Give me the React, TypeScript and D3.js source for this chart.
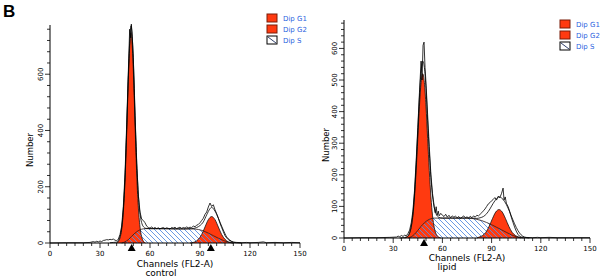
import React from "react";
import * as d3 from "d3";

type Pt = [number, number];

// ---------- shared tick labels ----------
const xTickLabels = [0, 30, 60, 90, 120, 150];
const leftYTickLabels = [0, 200, 400, 600];
const rightYTickLabels = [0, 100, 200, 300, 400, 500, 600];
const legendLabels = ["Dip G1", "Dip G2", "Dip S"];
const panelNames = ["control", "lipid"];

// ---------- control panel ----------
const controlG1: Pt[] = [
  [40, 0], [41, 5], [42, 18], [43, 48], [44, 110], [45, 220], [46, 390], [47, 580], [48, 715],
  [48.6, 748], [49.2, 715], [50.2, 580], [51.2, 390], [52.2, 220], [53.2, 110], [54.2, 48],
  [55.2, 18], [56.2, 5], [57.2, 0],
];
const controlG2: Pt[] = [
  [84, 0], [85, 1], [87, 4], [89, 13], [91, 30], [93, 57], [95, 83], [97, 94], [99, 83],
  [101, 57], [103, 30], [105, 13], [107, 4], [109, 1], [110, 0],
];
const controlS: Pt[] = [
  [43, 0], [45, 4], [47, 12], [49, 24], [51, 35], [53, 44], [55, 49], [57, 51], [65, 51],
  [75, 50], [85, 50], [89, 48], [92, 43], [95, 35], [98, 26], [101, 17], [104, 9], [107, 3], [110, 0],
];
const controlFit: Pt[] = [
  [36, 1], [38, 2], [40, 3], [41, 9], [42, 24], [43, 55], [44, 120], [45, 232], [46, 404],
  [47, 595], [48, 735], [48.6, 772], [49.2, 745], [50.2, 615], [51.2, 430], [52.2, 265],
  [53.2, 155], [54.2, 96], [55.2, 68], [56.2, 57], [57.5, 52], [60, 51], [70, 51], [80, 50],
  [85, 51], [88, 55], [90, 62], [92, 75], [94, 100], [96, 122], [97, 127], [98, 122],
  [100, 102], [102, 74], [104, 46], [106, 22], [108, 10], [110, 3], [112, 1], [115, 0],
];
const controlRaw: Pt[] = [
  [0, 0], [10, 1], [20, 1], [24, 2], [26, 5], [27, 3], [28, 6], [29, 4], [30, 7], [31, 5],
  [32, 9], [33, 10], [34, 12], [35, 11], [36, 13], [37, 12], [38, 14], [39, 10], [40, 8],
  [41, 14], [42, 30], [43, 60], [44, 130], [45, 245], [46, 420], [47, 610], [47.8, 760],
  [48.3, 730], [48.8, 778], [49.3, 740], [50, 660], [51, 450], [52, 285], [53, 170],
  [54, 110], [55, 85], [56, 80], [57, 72], [58, 60], [59, 55], [60, 53], [61, 57], [62, 52],
  [63, 55], [64, 51], [65, 54], [66, 50], [67, 53], [68, 55], [69, 51], [70, 54], [71, 52],
  [72, 50], [73, 55], [74, 53], [75, 56], [76, 51], [77, 54], [78, 56], [79, 52], [80, 55],
  [81, 53], [82, 57], [83, 54], [84, 56], [85, 55], [86, 60], [87, 58], [88, 63], [89, 66],
  [90, 72], [91, 80], [92, 88], [93, 102], [94, 110], [95, 128], [96, 142], [97, 130],
  [98, 136], [99, 118], [100, 104], [101, 88], [102, 70], [103, 55], [104, 40], [105, 26],
  [106, 18], [107, 12], [108, 8], [109, 5], [110, 3], [112, 2], [115, 1], [118, 2], [120, 1],
  [125, 2], [128, 4], [130, 1], [135, 2], [140, 1], [145, 2], [150, 1],
];
const controlMarkers = [49, 96.5];

// ---------- lipid panel ----------
const lipidG1: Pt[] = [
  [37, 0], [38, 2], [39, 6], [40, 15], [41, 34], [42, 70], [43, 130], [44, 214], [45, 315],
  [46, 417], [47, 492], [48, 520], [49, 492], [50, 417], [51, 315], [52, 214], [53, 130],
  [54, 70], [55, 34], [56, 15], [57, 6], [58, 2], [59, 0],
];
const lipidG2: Pt[] = [
  [81, 0], [82.5, 3], [84.5, 8], [86.5, 18], [88.5, 37], [90.5, 61], [92.5, 82], [94.5, 90],
  [96.5, 82], [98.5, 61], [100.5, 37], [102.5, 18], [104.5, 8], [106.5, 3], [108.5, 1], [109.5, 0],
];
const lipidS: Pt[] = [
  [39, 0], [41, 4], [43, 12], [45, 24], [47, 37], [49, 48], [51, 56], [53, 61], [55, 63],
  [65, 63], [75, 63], [78, 62], [81, 59], [84, 55], [87, 49], [90, 42], [93, 34], [96, 26],
  [99, 18], [102, 10], [105, 4], [108, 0],
];
const lipidFit: Pt[] = [
  [34, 0], [36, 1], [38, 3], [39, 7], [40, 17], [41, 38], [42, 76], [43, 142], [44, 232],
  [45, 339], [46, 446], [47, 529], [48, 560], [49, 540], [50, 473], [51, 371], [52, 274],
  [53, 191], [54, 133], [55, 97], [56, 78], [57, 69], [58, 65], [60, 63], [70, 63], [78, 63],
  [81, 62], [83, 64], [85, 68], [87, 77], [89, 92], [91, 110], [93, 124], [94.5, 130],
  [96, 127], [98, 115], [100, 95], [102, 70], [104, 45], [106, 24], [108, 10], [110, 3], [113, 0],
];
const lipidRaw: Pt[] = [
  [0, 0], [10, 1], [20, 1], [28, 2], [32, 3], [33, 6], [34, 4], [35, 8], [36, 5], [37, 9],
  [38, 7], [39, 14], [40, 25], [41, 48], [42, 85], [43, 150], [44, 245], [45, 350], [46, 460],
  [47, 560], [47.6, 500], [48.2, 610], [48.8, 620], [49.4, 540], [50, 490], [51, 390],
  [52, 290], [53, 200], [54, 140], [55, 100], [55.6, 80], [56.2, 99], [56.8, 72], [57.5, 85],
  [58, 70], [59, 78], [60, 72], [61, 68], [62, 75], [63, 66], [64, 72], [65, 64], [66, 70],
  [67, 66], [68, 69], [69, 64], [70, 68], [71, 62], [72, 66], [73, 70], [74, 64], [75, 67],
  [76, 63], [77, 69], [78, 64], [79, 70], [80, 66], [81, 72], [82, 70], [83, 75], [84, 80],
  [85, 86], [86, 92], [87, 100], [88, 108], [89, 112], [90, 118], [91, 122], [92, 128],
  [93, 120], [94, 132], [95, 128], [96, 140], [97, 158], [97.6, 120], [98.3, 130], [99, 110],
  [100, 100], [101, 85], [102, 66], [103, 50], [104, 35], [105, 22], [106, 12], [107, 6],
  [108, 3], [110, 2], [115, 1], [118, 2], [120, 1], [125, 2], [130, 1], [140, 1], [150, 1],
];
const lipidMarkers = [48.8];

const RED = "#ff3a10";
const BLUE_TEXT = "#2a62e0";
const HATCH = "#5a8fe0";
const FONT = "'DejaVu Sans', Verdana, sans-serif";

interface PanelProps {
  id: string;
  xRange: [number, number];
  y0: number;
  yTop: number;
  yMax: number;
  minorStep: number;
  yLabels: number[];
  g1: Pt[];
  g2: Pt[];
  s: Pt[];
  fit: Pt[];
  raw: Pt[];
  markers: number[];
  name: string;
  yLabelX: number;
  numberX: number;
  chanY: number;
  nameY: number;
  chanX: number;
  nameX: number;
  legendX: number;
  legendY: number;
}

function Panel(p: PanelProps) {
  const x = d3.scaleLinear().domain([0, 150]).range(p.xRange);
  const y = d3.scaleLinear().domain([0, p.yMax]).range([p.y0, p.yTop]);
  const area = d3
    .area<Pt>()
    .x((d) => x(d[0]))
    .y0(y(0))
    .y1((d) => y(d[1]))
    .curve(d3.curveMonotoneX);
  const smooth = d3
    .line<Pt>()
    .x((d) => x(d[0]))
    .y((d) => y(d[1]))
    .curve(d3.curveMonotoneX);
  const jag = d3
    .line<Pt>()
    .x((d) => x(d[0]))
    .y((d) => y(d[1]))
    .curve(d3.curveLinear);

  const yMinor = d3.range(0, p.yMax + 0.001, p.minorStep);
  const xMinor = d3.range(0, 150.001, 5);
  const x0 = x(0);

  return (
    <g>
      {/* components */}
      <path d={area(p.g1) || ""} fill={RED} />
      <path d={area(p.g2) || ""} fill={RED} />
      <path d={area(p.s) || ""} fill={`url(#hatch-${p.id})`} />
      <path d={smooth(p.s) || ""} fill="none" stroke="#2a1a1a" strokeWidth={0.8} />
      <path d={smooth(p.g1) || ""} fill="none" stroke="#111" strokeWidth={0.8} />
      <path d={smooth(p.g2) || ""} fill="none" stroke="#111" strokeWidth={0.8} />
      <path d={smooth(p.fit) || ""} fill="none" stroke="#000" strokeWidth={0.8} />
      <path d={jag(p.raw) || ""} fill="none" stroke="#000" strokeWidth={0.8} />

      {/* y axis */}
      <line x1={x0} x2={x0} y1={p.yTop} y2={p.y0} stroke="#000" strokeWidth={1} />
      {yMinor.map((v) => (
        <line
          key={`ym${v}`}
          x1={x0 - (p.yLabels.includes(v) ? 5 : 3)}
          x2={x0}
          y1={y(v)}
          y2={y(v)}
          stroke="#000"
          strokeWidth={0.8}
        />
      ))}
      {p.yLabels.map((v) => (
        <text
          key={`yl${v}`}
          transform={`translate(${p.yLabelX},${y(v)}) rotate(-90)`}
          textAnchor="middle"
          fontSize={7}
          fontFamily={FONT}
          fill="#000"
        >
          {v}
        </text>
      ))}
      <text
        transform={`translate(${p.numberX},${(p.y0 + p.yTop) / 2 + 16}) rotate(-90)`}
        textAnchor="middle"
        fontSize={8.5}
        fontFamily={FONT}
        fill="#000"
      >
        Number
      </text>

      {/* x axis */}
      <line x1={x0} x2={x(150)} y1={p.y0} y2={p.y0} stroke="#000" strokeWidth={1} />
      {xMinor.map((v) => (
        <line
          key={`xm${v}`}
          x1={x(v)}
          x2={x(v)}
          y1={p.y0}
          y2={p.y0 + (xTickLabels.includes(v) ? 5 : 3)}
          stroke="#000"
          strokeWidth={0.8}
        />
      ))}
      {xTickLabels.map((v) => (
        <text
          key={`xl${v}`}
          x={x(v)}
          y={p.y0 + 12.5}
          textAnchor="middle"
          fontSize={7}
          fontFamily={FONT}
          fill="#000"
        >
          {v}
        </text>
      ))}
      {p.markers.map((m) => (
        <path
          key={`mk${m}`}
          d={`M${x(m)},${p.y0 + 1} L${x(m) + 4},${p.y0 + 8} L${x(m) - 4},${p.y0 + 8} Z`}
          fill="#000"
        />
      ))}
      <text x={p.chanX} y={p.chanY} textAnchor="middle" fontSize={9} fontFamily={FONT} fill="#000">
        Channels (FL2-A)
      </text>
      <text x={p.nameX} y={p.nameY} textAnchor="middle" fontSize={9} fontFamily={FONT} fill="#000">
        {p.name}
      </text>

      {/* legend */}
      {legendLabels.map((lab, i) => {
        const ly = p.legendY + i * 11;
        const isS = i === 2;
        return (
          <g key={lab}>
            <rect
              x={p.legendX}
              y={ly}
              width={10}
              height={8}
              fill={isS ? "#fff" : RED}
              stroke={isS ? "#000" : "#7a1c08"}
              strokeWidth={1}
            />
            {isS && (
              <line x1={p.legendX + 1} y1={ly + 1} x2={p.legendX + 9} y2={ly + 7} stroke="#1a2a5a" strokeWidth={0.9} />
            )}
            <text x={p.legendX + 16} y={ly + 6.5} fontSize={7} fontFamily={FONT} fill={BLUE_TEXT}>
              {lab}
            </text>
          </g>
        );
      })}
    </g>
  );
}

export default function App() {
  return (
    <svg
      width={603}
      height={280}
      style={{ position: "absolute", left: 0, top: 0, background: "#fff" }}
    >
      <defs>
        {["c", "l"].map((id) => (
          <pattern key={id} id={`hatch-${id}`} patternUnits="userSpaceOnUse" width={5} height={5}>
            <path d="M0,0 L5,5 M-1,4 L1,6 M4,-1 L6,1" stroke={HATCH} strokeWidth={0.9} />
          </pattern>
        ))}
      </defs>
      <rect x={0} y={0} width={603} height={280} fill="#fff" />
      <text x={3} y={17} fontSize={17} fontWeight="bold" fontFamily="'Liberation Sans', Arial, sans-serif">
        B
      </text>
      <Panel
        id="c"
        xRange={[50, 300]}
        y0={243}
        yTop={25}
        yMax={775}
        minorStep={40}
        yLabels={leftYTickLabels}
        g1={controlG1}
        g2={controlG2}
        s={controlS}
        fit={controlFit}
        raw={controlRaw}
        markers={controlMarkers}
        name={panelNames[0]}
        yLabelX={43}
        numberX={33}
        chanX={175}
        chanY={266.5}
        nameX={161}
        nameY={276}
        legendX={267}
        legendY={14}
      />
      <Panel
        id="l"
        xRange={[344, 590]}
        y0={238}
        yTop={20}
        yMax={690}
        minorStep={20}
        yLabels={rightYTickLabels}
        g1={lipidG1}
        g2={lipidG2}
        s={lipidS}
        fit={lipidFit}
        raw={lipidRaw}
        markers={lipidMarkers}
        name={panelNames[1]}
        yLabelX={337}
        numberX={329}
        chanX={467}
        chanY={260.5}
        nameX={447}
        nameY={269.5}
        legendX={560}
        legendY={20}
      />
    </svg>
  );
}
